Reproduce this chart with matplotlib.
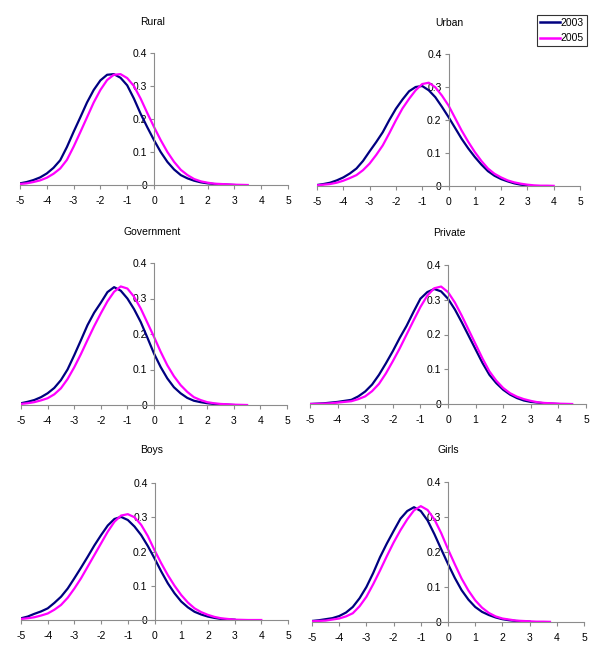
import numpy as np
import matplotlib
matplotlib.use('Agg')
import matplotlib.pyplot as plt
from matplotlib.lines import Line2D

plt.rcParams['font.family'] = ['Liberation Sans', 'DejaVu Sans']
plt.rcParams['axes.unicode_minus'] = False

# density curves, x from -5 in steps of 0.25
step = 0.25
titles = ['Rural', 'Urban', 'Government', 'Private', 'Boys', 'Girls']
years = ['2003', '2005']

rural_2003 = [0.005, 0.009, 0.015, 0.023, 0.035, 0.052, 0.075, 0.115, 0.161, 0.205, 0.25, 0.288,
              0.317, 0.334, 0.336, 0.325, 0.302, 0.262, 0.216, 0.175, 0.136, 0.1, 0.07, 0.047,
              0.03, 0.02, 0.013, 0.008, 0.005, 0.003, 0.002, 0.001, 0.0]
rural_2005 = [0.003, 0.005, 0.009, 0.014, 0.022, 0.034, 0.05, 0.076, 0.116, 0.16, 0.205, 0.25,
              0.288, 0.318, 0.334, 0.336, 0.324, 0.3, 0.262, 0.218, 0.176, 0.136, 0.1, 0.07,
              0.046, 0.03, 0.018, 0.011, 0.007, 0.004, 0.003, 0.002, 0.001, 0.0005, 0.0]
urban_2003 = [0.003, 0.006, 0.01, 0.017, 0.026, 0.038, 0.053, 0.076, 0.105, 0.133, 0.163, 0.2,
              0.234, 0.262, 0.287, 0.3, 0.303, 0.29, 0.269, 0.24, 0.209, 0.176, 0.143, 0.114,
              0.088, 0.065, 0.045, 0.031, 0.021, 0.014, 0.008, 0.004, 0.002]
urban_2005 = [0.002, 0.004, 0.006, 0.01, 0.016, 0.024, 0.033, 0.048, 0.068, 0.094, 0.123, 0.16,
              0.199, 0.235, 0.264, 0.29, 0.309, 0.313, 0.299, 0.274, 0.244, 0.206, 0.168, 0.134,
              0.103, 0.076, 0.053, 0.037, 0.026, 0.017, 0.011, 0.007, 0.004, 0.002, 0.001, 0.001,
              0.0005]
gov_2003 = [0.005, 0.009, 0.014, 0.022, 0.033, 0.048, 0.07, 0.1, 0.14, 0.182, 0.225, 0.26,
            0.288, 0.318, 0.332, 0.322, 0.3, 0.27, 0.234, 0.19, 0.145, 0.107, 0.075, 0.05,
            0.033, 0.02, 0.012, 0.008, 0.005, 0.003, 0.002, 0.001, 0.0]
gov_2005 = [0.003, 0.005, 0.008, 0.013, 0.019, 0.03, 0.047, 0.073, 0.106, 0.143, 0.183, 0.222,
            0.258, 0.292, 0.319, 0.334, 0.328, 0.305, 0.272, 0.232, 0.192, 0.15, 0.112, 0.081,
            0.056, 0.037, 0.022, 0.014, 0.008, 0.005, 0.003, 0.002, 0.001, 0.0005, 0.0]
priv_2003 = [0.0, 0.001, 0.002, 0.004, 0.006, 0.009, 0.012, 0.022, 0.036, 0.056, 0.084, 0.117,
             0.152, 0.19, 0.225, 0.265, 0.303, 0.322, 0.331, 0.324, 0.303, 0.272, 0.235, 0.196,
             0.157, 0.118, 0.084, 0.06, 0.041, 0.027, 0.017, 0.01, 0.006, 0.004, 0.002, 0.001, 0.0]
priv_2005 = [0.0, 0.0005, 0.001, 0.002, 0.004, 0.006, 0.008, 0.014, 0.022, 0.037, 0.058, 0.088,
             0.123, 0.16, 0.2, 0.24, 0.279, 0.312, 0.333, 0.338, 0.322, 0.292, 0.254, 0.213,
             0.172, 0.131, 0.094, 0.067, 0.046, 0.031, 0.021, 0.014, 0.009, 0.005, 0.003, 0.002,
             0.001, 0.0005, 0.0]
boys_2003 = [0.005, 0.01, 0.018, 0.025, 0.034, 0.05, 0.068, 0.092, 0.122, 0.153, 0.185, 0.218,
             0.248, 0.276, 0.295, 0.301, 0.292, 0.273, 0.248, 0.216, 0.18, 0.142, 0.107, 0.078,
             0.054, 0.037, 0.024, 0.016, 0.01, 0.006, 0.003, 0.002, 0.001]
boys_2005 = [0.003, 0.005, 0.008, 0.013, 0.019, 0.03, 0.044, 0.065, 0.092, 0.122, 0.156, 0.19,
             0.224, 0.258, 0.287, 0.305, 0.309, 0.3, 0.278, 0.245, 0.204, 0.166, 0.131, 0.1,
             0.073, 0.051, 0.034, 0.023, 0.015, 0.009, 0.005, 0.003, 0.001, 0.0005, 0.0, 0.0, 0.0]
girls_2003 = [0.003, 0.005, 0.008, 0.011, 0.017, 0.027, 0.043, 0.068, 0.1, 0.14, 0.185, 0.224,
              0.26, 0.295, 0.317, 0.328, 0.317, 0.29, 0.251, 0.208, 0.166, 0.126, 0.091, 0.064,
              0.043, 0.029, 0.02, 0.013, 0.008, 0.005, 0.003, 0.002, 0.001]
girls_2005 = [0.002, 0.003, 0.004, 0.007, 0.01, 0.016, 0.025, 0.045, 0.072, 0.108, 0.147, 0.188,
              0.227, 0.262, 0.293, 0.319, 0.331, 0.32, 0.293, 0.254, 0.208, 0.165, 0.124, 0.09,
              0.062, 0.041, 0.026, 0.016, 0.01, 0.007, 0.004, 0.003, 0.002, 0.001, 0.001, 0.0005]

series = [(rural_2003, rural_2005), (urban_2003, urban_2005), (gov_2003, gov_2005),
          (priv_2003, priv_2005), (boys_2003, boys_2005), (girls_2003, girls_2005)]
colors = ['#000080', '#FF00FF']

W, H = 600, 658
# panel rectangles in pixels: left, right, top, bottom
rects = [(20, 288, 53, 185), (317, 580, 54, 186),
         (21, 287, 263, 405), (310, 586, 265, 404),
         (21, 288, 483, 620), (312, 584, 482, 622)]
title_pos = [(153, 22), (449, 23), (152, 232), (449, 233), (152, 450), (448, 450)]

fig = plt.figure(figsize=(6, 6.58), dpi=100)

for i in range(6):
    l, r, t, b = rects[i]
    ax = fig.add_axes([l / W, 1 - b / H, (r - l) / W, (b - t) / H])
    for vals, c in zip(series[i], colors):
        x = -5 + step * np.arange(len(vals))
        ax.plot(x, vals, color=c, lw=1.6, solid_joinstyle='round')
    ax.set_xlim(-5, 5)
    ax.set_ylim(0, 0.4)
    ax.spines['left'].set_position(('data', 0))
    ax.spines['right'].set_visible(False)
    ax.spines['top'].set_visible(False)
    for s in ['left', 'bottom']:
        ax.spines[s].set_color('#8c8c8c')
        ax.spines[s].set_linewidth(0.8)
    ax.set_xticks(range(-5, 6))
    ax.set_yticks([0, 0.1, 0.2, 0.3, 0.4])
    ax.set_yticklabels(['0', '0.1', '0.2', '0.3', '0.4'])
    ax.tick_params(colors='#8c8c8c', labelcolor='black', labelsize=7.5,
                   length=3, width=0.8)
    ax.tick_params(axis='x', pad=5)
    ax.tick_params(axis='y', pad=2)
    ax.patch.set_alpha(0)
    fig.text(title_pos[i][0] / W, 1 - title_pos[i][1] / H, titles[i],
             ha='center', va='center', fontsize=7.5)

handles = [Line2D([], [], color=c, lw=1.8) for c in colors]
leg = fig.legend(handles, years, loc='upper right',
                 bbox_to_anchor=(587 / W, 1 - 15 / H), fontsize=7.5,
                 frameon=True, fancybox=False, borderpad=0.3,
                 handlelength=1.9, handletextpad=0.1, labelspacing=0.5,
                 borderaxespad=0)
leg.get_frame().set_edgecolor('black')
leg.get_frame().set_linewidth(0.8)

fig.savefig('out.png', dpi=100)
